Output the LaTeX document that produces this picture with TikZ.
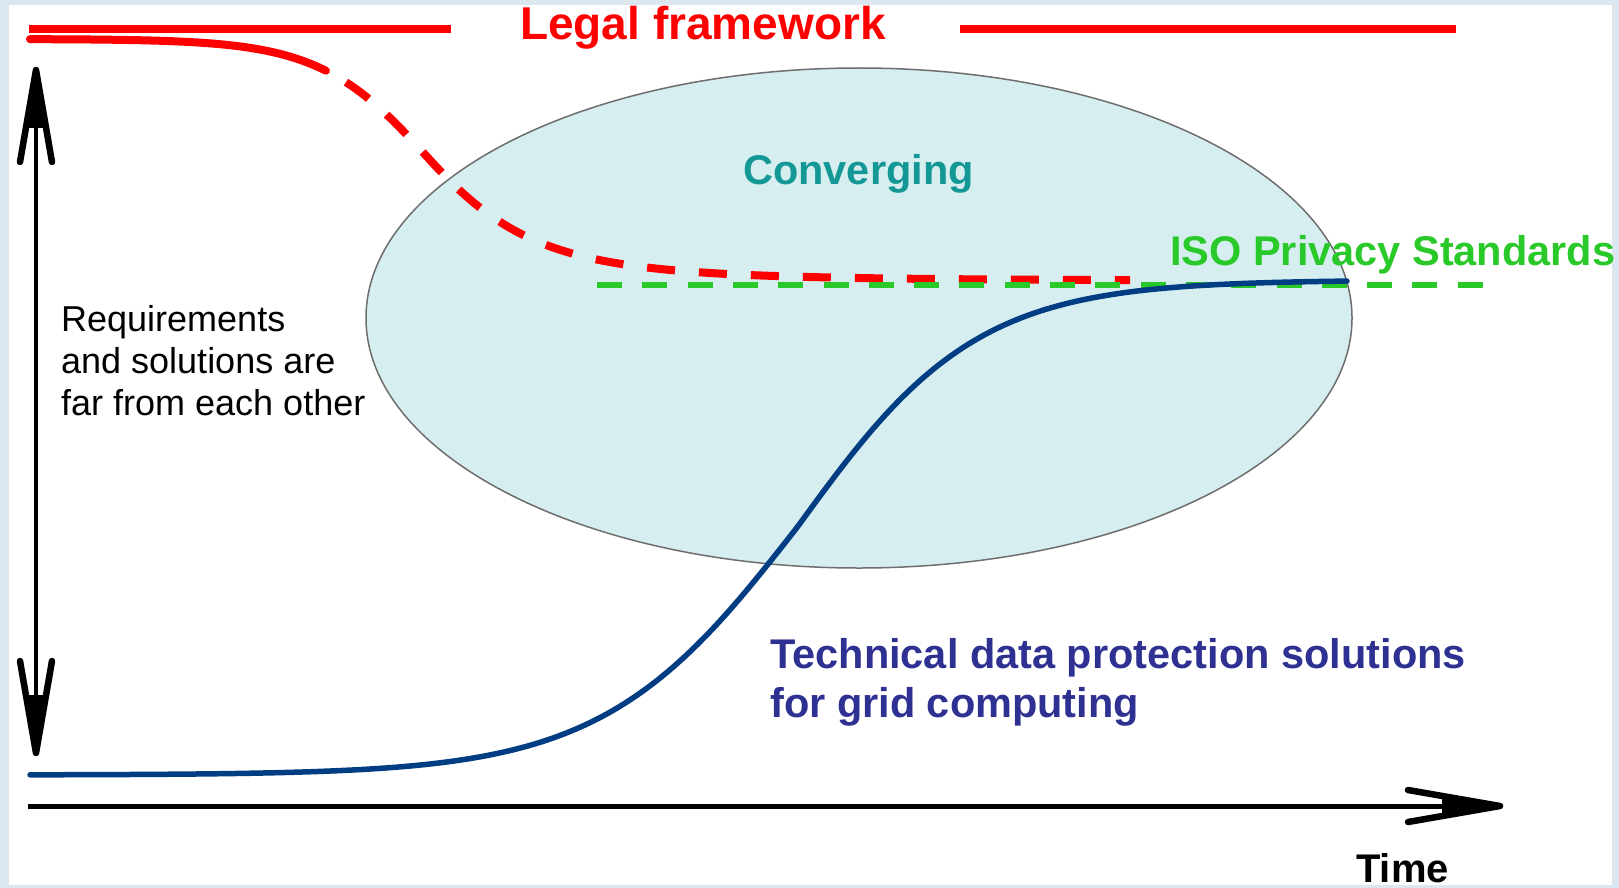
\documentclass[tikz,border=0pt]{standalone}
\usepackage{fontspec}
\setmainfont{Liberation Sans}
\usetikzlibrary{shapes.geometric}
\definecolor{frameblue}{RGB}{220,230,239}
\definecolor{lawred}{RGB}{255,0,0}
\definecolor{techblue}{RGB}{0,61,130}
\definecolor{textblue}{RGB}{46,49,146}
\definecolor{isogreen}{RGB}{40,201,40}
\definecolor{teal}{RGB}{20,152,150}
\definecolor{zonefill}{RGB}{214,238,240}
\definecolor{zoneline}{RGB}{110,110,110}
\tikzset{
  barbhead/.pic={
    \fill (0,0) -- (-58,7) -- (-58,-7) -- cycle;
    \draw[line width=6.5pt, line cap=round, line join=round] (-92,16) -- (0,0) -- (-92,-16);
  },
  boldlbl/.style={inner sep=0pt, anchor=base west, font=\bfseries\fontsize{41.5}{48}\selectfont},
  plainlbl/.style={inner sep=0pt, anchor=base west, font=\fontsize{36}{42}\selectfont},
  lawline/.style={draw=lawred, line width=8pt},
  techline/.style={draw=techblue, line width=5.5pt, line cap=round},
}
% falling requirements level and rising solutions level
\pgfmathdeclarefunction{lawlevel}{1}{%
  \pgfmathparse{39+242/(1+exp(-(#1-430)/(55+0.1*max(0,#1-430))))}}
\pgfmathdeclarefunction{techlevel}{1}{%
  \pgfmathparse{775-495/(1+exp(-(#1-797)/ifthenelse(#1<797,97,90)))}}
\begin{document}
\begin{tikzpicture}[x=1pt,y=-1pt]
  \useasboundingbox (0,0) rectangle (1619,888);
  % frame and white sheet
  \fill[frameblue] (0,0) rectangle (1619,888);
  \fill[white] (9,5) rectangle (1612,885);

  % converging zone
  \node[ellipse, fill=zonefill, draw=zoneline, line width=1.5pt,
        minimum width=986pt, minimum height=500pt, inner sep=0pt] (zone) at (859,318) {};

  % legal framework bar and title
  \coordinate (lawA) at (29,29);
  \coordinate (lawB) at (451,29);
  \coordinate (lawC) at (960,29);
  \coordinate (lawD) at (1456,29);
  \draw[lawline] (lawA) -- (lawB);
  \draw[lawline] (lawC) -- (lawD);
  \node[boldlbl, text=lawred, font=\bfseries\fontsize{46}{52}\selectfont] (legal) at (520,40) {Legal framework};

  % requirements curve: solid start, dashed descent
  \draw[lawline, line cap=round] plot[domain=30:326, samples=40] (\x, {lawlevel(\x)});
  \draw[lawline, dash pattern=on 28pt off 24pt] plot[domain=346:1130, samples=160] (\x, {lawlevel(\x)});

  % ISO standards level
  \coordinate (isoA) at (597,285);
  \coordinate (isoB) at (1484,285);
  \draw[isogreen, line width=6pt, dash pattern=on 25pt off 20.3pt] (isoA) -- (isoB);

  % technical solutions curve
  \draw[techline] plot[domain=30:1347, samples=220] (\x, {techlevel(\x)});

  % vertical double arrow
  \coordinate (ytop) at (36,70);
  \coordinate (ybot) at (36,753);
  \draw[line width=4.5pt] (ytop) -- (ybot);
  \pic[rotate=90] at (ytop) {barbhead};
  \pic[rotate=-90] at (ybot) {barbhead};

  % time axis
  \coordinate (t0) at (28,806);
  \coordinate (t1) at (1500,806);
  \draw[line width=5pt] (t0) -- (t1);
  \pic at (t1) {barbhead};

  % labels
  \node[boldlbl, text=teal] (conv) at (743,184) {Converging};
  \node[boldlbl, text=isogreen] (iso) at (1170,265) {ISO Privacy Standards};
  \node[boldlbl, text=textblue] (tech1) at (770,668) {Technical data protection solutions};
  \node[boldlbl, text=textblue] (tech2) at (770,717) {for grid computing};
  \node[plainlbl] (req1) at (61,331) {Requirements};
  \node[plainlbl] (req2) at (61,373) {and solutions are};
  \node[plainlbl] (req3) at (61,415) {far from each other};
  \node[boldlbl, font=\bfseries\fontsize{40}{46}\selectfont] (time) at (1356,882) {Time};
\end{tikzpicture}
\end{document}
